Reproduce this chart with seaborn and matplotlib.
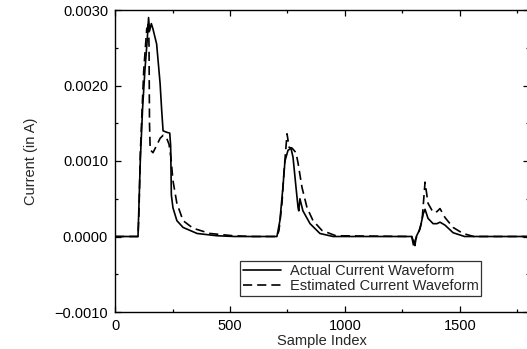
import numpy as np
import pandas as pd
import matplotlib
matplotlib.use("Agg")
import matplotlib.pyplot as plt
from matplotlib.ticker import MultipleLocator, FuncFormatter
import seaborn as sns

# ---- data (current in mA) ----
actual_x = [0, 100, 103, 110, 120, 130, 140, 146, 150, 158, 165, 181, 196, 203, 209,
            225, 238, 242, 245, 252, 269, 296, 357, 443, 520,
            704, 717, 730, 739, 752, 765, 774, 787, 796, 799, 804, 817, 848, 891, 948,
            1290, 1300, 1304, 1310, 1326, 1340, 1348, 1361, 1383, 1400, 1413, 1435,
            1470, 1520, 1800]
actual_mA = [0, 0, 0.30, 1.00, 1.70, 2.20, 2.60, 2.90, 2.72, 2.82, 2.75, 2.55, 2.03, 1.67, 1.40,
             1.38, 1.37, 1.20, 0.55, 0.38, 0.21, 0.12, 0.04, 0.01, 0,
             0, 0.21, 0.65, 1.00, 1.14, 1.17, 1.05, 0.65, 0.38, 0.34, 0.50, 0.34, 0.17, 0.04, 0,
             0, -0.08, -0.12, 0, 0.10, 0.30, 0.36, 0.24, 0.17, 0.17, 0.19, 0.15,
             0.05, 0, 0]

estimated_x = [0, 100, 104, 110, 118, 125, 132, 138, 143, 146, 148, 150, 153, 165, 180,
               196, 209, 225, 235, 243, 252, 269, 296, 339, 413, 513, 600,
               704, 713, 726, 735, 748, 757, 770, 787, 796, 813, 835, 861, 900, 960,
               1290, 1300, 1305, 1320, 1335, 1348, 1361, 1383, 1400, 1413, 1435, 1470,
               1513, 1560, 1800]
estimated_mA = [0, 0, 0.30, 1.10, 1.70, 2.20, 2.50, 2.75, 2.78, 2.85, 2.50, 1.50, 1.15, 1.11, 1.20,
                1.30, 1.34, 1.30, 1.22, 1.05, 0.74, 0.44, 0.21, 0.11, 0.04, 0.01, 0,
                0, 0.08, 0.44, 0.87, 1.36, 1.18, 1.17, 1.11, 0.97, 0.65, 0.38, 0.21, 0.08, 0.01,
                0, -0.15, -0.05, 0.05, 0.21, 0.72, 0.44, 0.32, 0.33, 0.37, 0.25, 0.12,
                0.04, 0, 0]

series_names = ["Actual Current Waveform", "Estimated Current Waveform"]

df = pd.concat([
    pd.DataFrame({"Sample Index": actual_x,
                  "Current": np.array(actual_mA) / 1000.0,
                  "Series": series_names[0]}),
    pd.DataFrame({"Sample Index": estimated_x,
                  "Current": np.array(estimated_mA) / 1000.0,
                  "Series": series_names[1]}),
], ignore_index=True)

sns.set_theme(style="ticks")
plt.rcParams["font.family"] = ["Liberation Sans", "DejaVu Sans"]
plt.rcParams["axes.unicode_minus"] = True

FS = 10.5
fig = plt.figure(figsize=(5.27, 3.49), dpi=100)
ax = fig.add_axes([115 / 527, 37 / 349, 414 / 527, 302 / 349])

sns.lineplot(data=df, x="Sample Index", y="Current", hue="Series", style="Series",
             palette={series_names[0]: "black", series_names[1]: "black"},
             dashes={series_names[0]: "", series_names[1]: (5.5, 3)},
             linewidth=1.2, sort=False, estimator=None, ax=ax)

ax.set_xlim(0, 1800)
ax.set_ylim(-0.001, 0.003)
ax.xaxis.set_major_locator(MultipleLocator(500))
ax.xaxis.set_minor_locator(MultipleLocator(250))
ax.yaxis.set_major_locator(MultipleLocator(0.001))
ax.yaxis.set_minor_locator(MultipleLocator(0.0005))
ax.yaxis.set_major_formatter(FuncFormatter(lambda v, p: ("%.4f" % v).replace("-", "\u2212")))
ax.tick_params(which="both", direction="in", top=True, right=True, colors="black",
               labelsize=FS, width=0.9)
ax.tick_params(which="major", length=4, pad=5)
ax.tick_params(which="minor", length=2.5)
for s in ax.spines.values():
    s.set_color("black")
    s.set_linewidth(1.0)

ax.set_xlabel("Sample Index", fontsize=FS, labelpad=1)
ax.set_ylabel("Current (in A)", fontsize=FS, labelpad=12)

leg = ax.legend(loc="lower left", bbox_to_anchor=(0.302, 0.053), borderaxespad=0,
                frameon=True, fancybox=False, fontsize=FS, handlelength=2.6,
                borderpad=0.2, labelspacing=0.1, handletextpad=0.6, title=None)
leg.get_frame().set_edgecolor("black")
leg.get_frame().set_linewidth(0.9)

fig.savefig("out.png", dpi=100)
